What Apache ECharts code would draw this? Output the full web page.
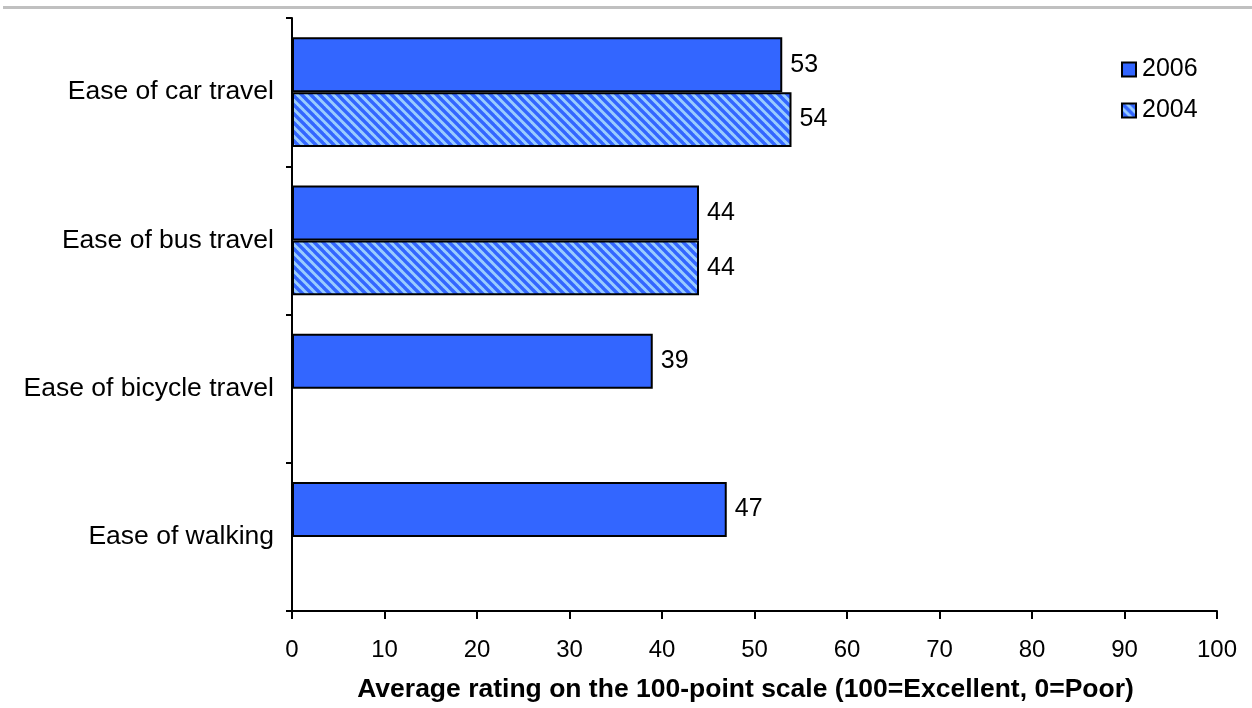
<!DOCTYPE html>
<html>
<head>
<meta charset="utf-8">
<script src="https://cdn.jsdelivr.net/npm/echarts@6/dist/echarts.min.js"></script>
<style>
  html, body { margin: 0; padding: 0; background: #fff; }
  #chart { width: 1252px; height: 708px; }
</style>
</head>
<body>
<div id="chart"></div>
<script>
// Survey categories, top to bottom
const categories = ['Ease of car travel', 'Ease of bus travel', 'Ease of bicycle travel', 'Ease of walking'];
// Average ratings per year (null = not asked that year)
const ratings2006 = [53, 44, 39, 47];
const ratings2004 = [54, 44, null, null];
const xTicks = [0, 10, 20, 30, 40, 50, 60, 70, 80, 90, 100];

const FONT = 'Liberation Sans, Arial, sans-serif';

// Diagonal hatch tile for the 2004 bars
function hatchTile() {
  const s = 9;
  const c = document.createElement('canvas');
  c.width = s; c.height = s;
  const g = c.getContext('2d');
  g.fillStyle = '#99CCFF';
  g.fillRect(0, 0, s, s);
  g.strokeStyle = '#3366FF';
  g.lineWidth = 3.4;
  for (const k of [-s, 0, s]) {
    g.beginPath();
    g.moveTo(k - 1, -1);
    g.lineTo(k + s + 1, s + 1);
    g.stroke();
  }
  return c;
}

const chart = echarts.init(document.getElementById('chart'), null, { renderer: 'canvas' });

const valueLabel = {
  show: true,
  position: 'right',
  distance: 8,
  color: '#000',
  fontFamily: FONT,
  fontSize: 25
};

chart.setOption({
  animation: false,
  backgroundColor: '#fff',
  graphic: [{
    type: 'rect',
    shape: { x: 3, y: 6, width: 1249, height: 3 },
    style: { fill: '#c0c0c0' },
    silent: true
  }],
  grid: { left: 292, right: 35, top: 18, bottom: 95, containLabel: false },
  legend: {
    orient: 'vertical',
    left: 1116,
    top: 52,
    itemWidth: 14,
    itemHeight: 14,
    itemGap: 16,
    icon: 'rect',
    textStyle: { fontFamily: FONT, fontSize: 25, lineHeight: 25, color: '#000', padding: [0, 0, 0, 1] },
    data: ['2006', '2004']
  },
  xAxis: {
    type: 'value',
    min: 0,
    max: 100,
    interval: 10,
    splitLine: { show: false },
    axisLine: { show: true, lineStyle: { color: '#000', width: 2 } },
    axisTick: { show: true, length: 8, lineStyle: { color: '#000', width: 2 } },
    axisLabel: {
      margin: 27,
      color: '#000',
      fontFamily: FONT,
      fontSize: 24,
      formatter: v => xTicks.includes(v) ? String(v) : ''
    },
    name: 'Average rating on the 100-point scale (100=Excellent, 0=Poor)',
    nameLocation: 'middle',
    nameGap: 65,
    nameTextStyle: { fontFamily: FONT, fontSize: 26.5, fontWeight: 'bold', color: '#000', padding: [0, 18, 0, 0] }
  },
  yAxis: {
    type: 'category',
    inverse: true,
    data: categories,
    axisLine: { show: true, lineStyle: { color: '#000', width: 2 } },
    axisTick: { show: true, length: 6, lineStyle: { color: '#000', width: 2 } },
    axisLabel: { margin: 18, color: '#000', fontFamily: FONT, fontSize: 26.5 }
  },
  series: [
    {
      name: '2006',
      type: 'bar',
      data: ratings2006,
      barGap: '0%',
      barCategoryGap: '26%',
      itemStyle: { color: '#3366FF', borderColor: '#000', borderWidth: 2 },
      label: valueLabel
    },
    {
      name: '2004',
      type: 'bar',
      data: ratings2004,
      barGap: '0%',
      barCategoryGap: '26%',
      itemStyle: {
        color: { image: hatchTile(), repeat: 'repeat' },
        borderColor: '#000',
        borderWidth: 2
      },
      label: valueLabel
    }
  ]
});
</script>
</body>
</html>
